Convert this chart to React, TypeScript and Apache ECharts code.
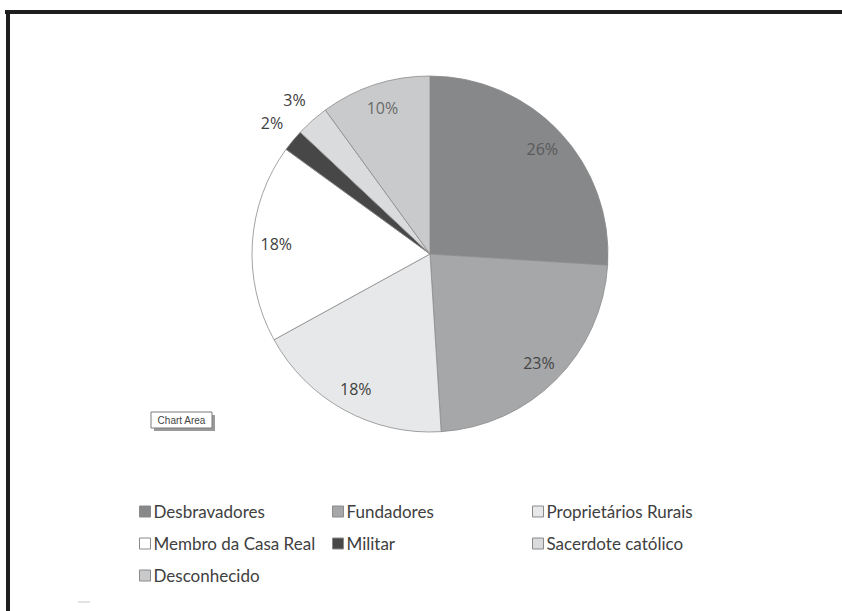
import React, { useEffect, useRef } from "react";
import * as echarts from "echarts";

const categories = [
  "Desbravadores",
  "Fundadores",
  "Proprietários Rurais",
  "Membro da Casa Real",
  "Militar",
  "Sacerdote católico",
  "Desconhecido",
];
const values = [26, 23, 18, 18, 2, 3, 10];
const colors = ["#87888a", "#a6a7a9", "#e7e8e9", "#ffffff", "#474747", "#dadbdc", "#c9cacb"];
const insideLabelColors = ["#5a5a5a", "#454545", "#404040", "#404040", "#404040", "#404040", "#6a6a6a"];
const outsideItems = ["Militar", "Sacerdote católico"];
const legendColumns = [
  ["Desbravadores", "Membro da Casa Real", "Desconhecido"],
  ["Fundadores", "Militar"],
  ["Proprietários Rurais", "Sacerdote católico"],
];
const legendLefts = [134, 327, 527];

export default function App() {
  const ref = useRef<HTMLDivElement>(null);
  useEffect(() => {
    if (!ref.current) return;
    const chart = echarts.init(ref.current, undefined, { renderer: "svg" });
    const font = "'Open Sans', sans-serif";
    const center = [430, 254];
    const R = 178;
    const mainData = categories.map((name, i) => ({
      name,
      value: values[i],
      itemStyle: { color: colors[i] },
    }));
    const labelData = (outside: boolean) =>
      categories.map((name, i) => {
        const show = outsideItems.includes(name) === outside;
        return {
          name,
          value: values[i],
          itemStyle: { color: "rgba(0,0,0,0)" },
          label: {
            show,
            color: outside ? "#404040" : insideLabelColors[i],
          },
        };
      });
    chart.setOption({
      animation: false,
      backgroundColor: "#ffffff",
      legend: legendColumns.map((col, k) => ({
        data: col,
        orient: "vertical",
        left: legendLefts[k],
        top: 498,
        itemGap: 15,
        icon: "rect",
        itemWidth: 11,
        itemHeight: 11,
        itemStyle: { borderColor: "#8a8a8a", borderWidth: 1 },
        textStyle: { fontFamily: "Lato, sans-serif", fontSize: 17, color: "#404040", padding: [0, 0, 0, -2] },
        selectedMode: false,
      })),
      series: [
        {
          type: "pie",
          center,
          radius: [0, R],
          startAngle: 90,
          clockwise: true,
          silent: true,
          label: { show: false },
          labelLine: { show: false },
          itemStyle: { borderColor: "#8c8c8c", borderWidth: 0.8 },
          data: mainData,
        },
        {
          type: "pie",
          center,
          radius: [0, 2 * 151],
          startAngle: 90,
          clockwise: true,
          silent: true,
          legendHoverLink: false,
          label: {
            position: "inside",
            formatter: "{c}%",
            fontFamily: font,
            fontSize: 16,
          },
          labelLine: { show: false },
          data: labelData(false),
        },
        {
          type: "pie",
          center,
          radius: [0, 2 * 202],
          startAngle: 90,
          clockwise: true,
          silent: true,
          legendHoverLink: false,
          label: {
            position: "inside",
            formatter: "{c}%",
            fontFamily: font,
            fontSize: 16,
          },
          labelLine: { show: false },
          data: labelData(true),
        },
      ],
      graphic: [
        {
          type: "line",
          shape: { x1: 5, y1: 12, x2: 842, y2: 12 },
          style: { stroke: "#1e1e1e", lineWidth: 4 },
        },
        {
          type: "line",
          shape: { x1: 8, y1: 10, x2: 8, y2: 611 },
          style: { stroke: "#1e1e1e", lineWidth: 4 },
        },
        {
          type: "rect",
          shape: { x: 154, y: 415, width: 61, height: 16 },
          style: { fill: "#9a9a9a" },
        },
        {
          type: "rect",
          shape: { x: 151, y: 412, width: 61, height: 16 },
          style: { fill: "#ffffff", stroke: "#7a7a7a", lineWidth: 1 },
        },
        {
          type: "text",
          x: 181.5,
          y: 420,
          style: {
            text: "Chart Area",
            fontFamily: "'Liberation Sans Narrow', 'Liberation Sans', sans-serif",
            fontSize: 10,
            fill: "#444444",
            align: "center",
            verticalAlign: "middle",
          },
        },
        {
          type: "line",
          shape: { x1: 78, y1: 602, x2: 90, y2: 602 },
          style: { stroke: "#c8c8c8", lineWidth: 1 },
        },
      ],
    });
    return () => chart.dispose();
  }, []);
  return (
    <div
      ref={ref}
      style={{ position: "fixed", left: 0, top: 0, width: 842, height: 611 }}
    />
  );
}
